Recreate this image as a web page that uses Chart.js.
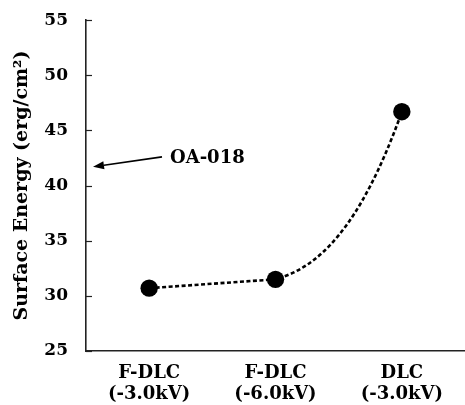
<!DOCTYPE html>
<html>
<head>
<meta charset="utf-8">
<script src="https://cdn.jsdelivr.net/npm/chart.js@4.4.1/dist/chart.umd.min.js"></script>
<style>
  html, body { margin: 0; padding: 0; background: #fff; }
  #wrap { width: 465px; height: 405px; position: relative; }
</style>
</head>
<body>
<div id="wrap"><canvas id="c" width="465" height="405"></canvas></div>
<script>
// ---- data ----
const categories = [["F-DLC", "(-3.0kV)"], ["F-DLC", "(-6.0kV)"], ["DLC", "(-3.0kV)"]];
const surfaceEnergy = [30.7, 31.5, 46.7];
const yTicks = [25, 30, 35, 40, 45, 50, 55];
const yTitle = "Surface Energy (erg/cm\u00B2)";
const annotationLabel = "OA-018";
const annotationValue = 41.7;

const FONT = "'DejaVu Serif', serif";

// inward tick marks on the value axis
const innerTicks = {
  id: 'innerTicks',
  afterDraw(chart) {
    const ctx = chart.ctx, y = chart.scales.y, a = chart.chartArea;
    ctx.save();
    ctx.strokeStyle = '#222';
    ctx.lineWidth = 1.2;
    yTicks.forEach(v => {
      const py = Math.round(y.getPixelForValue(v)) + 0.5;
      ctx.beginPath();
      ctx.moveTo(a.left, py);
      ctx.lineTo(a.left + 6, py);
      ctx.stroke();
    });
    ctx.restore();
  }
};

// arrow + label annotation
const arrowNote = {
  id: 'arrowNote',
  afterDraw(chart) {
    const ctx = chart.ctx, y = chart.scales.y, a = chart.chartArea;
    const tipX = a.left + 7, tipY = y.getPixelForValue(annotationValue);
    const tailX = a.left + 76, tailY = tipY - 10;
    ctx.save();
    ctx.strokeStyle = '#000';
    ctx.fillStyle = '#000';
    ctx.lineWidth = 1.6;
    const ang = Math.atan2(tipY - tailY, tipX - tailX);
    const hl = 11, hw = 4;
    const bx = tipX - hl * Math.cos(ang), by = tipY - hl * Math.sin(ang);
    ctx.beginPath();
    ctx.moveTo(tailX, tailY);
    ctx.lineTo(bx, by);
    ctx.stroke();
    ctx.beginPath();
    ctx.moveTo(tipX, tipY);
    ctx.lineTo(bx + hw * Math.sin(ang), by - hw * Math.cos(ang));
    ctx.lineTo(bx - hw * Math.sin(ang), by + hw * Math.cos(ang));
    ctx.closePath();
    ctx.fill();
    ctx.font = "bold 18px " + FONT;
    ctx.textAlign = 'left';
    ctx.textBaseline = 'middle';
    ctx.fillText(annotationLabel, tailX + 8, tailY + 1);
    ctx.restore();
  }
};

// smoothing shape: set tangent slopes of the library's bezier control points
const curveShape = {
  id: 'curveShape',
  beforeDatasetDraw(chart, args) {
    const meta = args.meta, line = meta.dataset, pts = meta.data;
    if (!line || pts.length < 3) return;
    line.updateControlPoints(chart.chartArea, 'x');
    const chord = (pts[1].y - pts[0].y) / (pts[1].x - pts[0].x);
    // [slope leaving point i, slope arriving at point i+1] per segment (screen dy/dx)
    const seg = [[chord, chord], [-0.28, -2.8]];
    for (let i = 0; i < pts.length - 1; i++) {
      const p = pts[i], q = pts[i + 1];
      const h = (q.x - p.x) / 3;
      p.cp2x = p.x + h; p.cp2y = p.y + seg[i][0] * h;
      q.cp1x = q.x - h; q.cp1y = q.y - seg[i][1] * h;
    }
    line._path = undefined;
  }
};

new Chart(document.getElementById('c'), {
  type: 'line',
  data: {
    labels: categories,
    datasets: [{
      data: surfaceEnergy,
      borderColor: '#000',
      backgroundColor: '#000',
      borderWidth: 2.6,
      borderDash: [4, 2.5],
      tension: 0.4,
      pointRadius: 8.7,
      pointBorderWidth: 0,
      pointBackgroundColor: '#000',
      fill: false
    }]
  },
  options: {
    responsive: false,
    animation: false,
    devicePixelRatio: 1,
    layout: { autoPadding: false, padding: { top: 20, right: 0, left: 0, bottom: 0 } },
    plugins: { legend: { display: false }, tooltip: { enabled: false } },
    scales: {
      x: {
        type: 'category',
        offset: true,
        grid: { display: false },
        border: { display: true, color: '#222', width: 1.6 },
        afterFit(scale) { scale.height = 54; scale.paddingLeft = 0; scale.paddingRight = 0; },
        ticks: {
          color: '#000',
          padding: 4,
          maxRotation: 0,
          font: { family: FONT, size: 18, weight: 'bold', lineHeight: 1.15 }
        }
      },
      y: {
        min: 25, max: 55,
        grid: { display: false },
        border: { display: true, color: '#222', width: 1.6 },
        afterBuildTicks(scale) { scale.ticks = yTicks.map(v => ({ value: v })); },
        afterFit(scale) { scale.width = 86; },
        ticks: {
          color: '#000',
          padding: 10,
          font: { family: FONT, size: 17, weight: 'bold' }
        },
        title: {
          display: true,
          text: yTitle,
          color: '#000',
          padding: { top: 11, bottom: 0 },
          font: { family: FONT, size: 19, weight: 'bold' }
        }
      }
    }
  },
  plugins: [curveShape, innerTicks, arrowNote]
});
</script>
</body>
</html>
